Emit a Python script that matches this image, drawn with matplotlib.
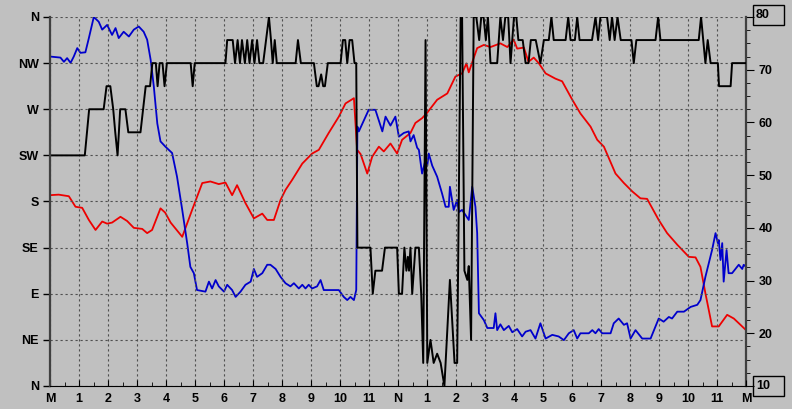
import matplotlib
matplotlib.use("Agg")
import matplotlib.pyplot as plt
from matplotlib.ticker import MultipleLocator
from matplotlib.patches import Rectangle

plt.rcParams['font.family'] = ['Liberation Sans', 'DejaVu Sans']
plt.rcParams['font.weight'] = 'bold'

# hour labels, midnight to midnight
hour_labels = ['M', '1', '2', '3', '4', '5', '6', '7', '8', '9', '10', '11', 'N',
               '1', '2', '3', '4', '5', '6', '7', '8', '9', '10', '11', 'M']
compass = ['N', 'NE', 'E', 'SE', 'S', 'SW', 'W', 'NW', 'N']
right_ticks = [10, 20, 30, 40, 50, 60, 70, 80]

# red series (right scale)
red_h = [0, 0.3, 0.65, 0.88, 1.11, 1.34, 1.57, 1.8, 1.97, 2.14, 2.43, 2.66, 2.89, 3.18,
         3.35, 3.52, 3.81, 3.97, 4.16, 4.56, 4.9, 5.25, 5.53, 5.82, 6.05, 6.28, 6.45,
         6.74, 7.03, 7.32, 7.49, 7.72, 7.95, 8.12, 8.35, 8.7, 9.04, 9.27, 9.61, 9.96,
         10.19, 10.48, 10.59, 10.71, 10.94, 11.11, 11.34, 11.51, 11.74, 11.97, 12.14,
         12.43, 12.6, 12.83, 13.0, 13.35, 13.7, 13.98, 14.21, 14.36, 14.44, 14.61,
         14.73, 14.96, 15.19, 15.53, 15.77, 15.99, 16.11, 16.34, 16.5, 16.68, 16.86,
         17.09, 17.43, 17.66, 18.01, 18.29, 18.64, 18.87, 19.1, 19.5, 19.79, 20.08,
         20.36, 20.59, 20.99, 21.28, 21.63, 22.03, 22.26, 22.43, 22.6, 22.83, 23.06,
         23.35, 23.58, 23.81, 24.0]
red_v = [46.2, 46.3, 46.0, 44.0, 43.8, 41.5, 39.6, 41.2, 40.8, 41.0, 42.1, 41.3, 40.0, 39.8,
         39.0, 39.6, 43.7, 42.9, 41.0, 38.3, 43.4, 48.5, 48.8, 48.3, 48.6, 46.2, 48.1,
         44.7, 41.8, 42.7, 41.5, 41.5, 45.3, 47.2, 49.1, 52.2, 54.1, 54.8, 58.0, 61.1,
         63.6, 64.6, 54.8, 54.0, 50.3, 53.5, 55.4, 54.5, 56.0, 54.1, 56.7,
         58.0, 59.9, 60.8, 61.8, 64.3, 65.5, 68.7, 69.3, 71.2, 69.5, 72.2,
         74.1, 74.7, 74.3, 75.0, 74.3, 75.7, 74.0, 74.2, 71.5, 72.3, 71.2,
         69.3, 68.3, 67.8, 64.3, 61.7, 59.2, 56.7, 55.4, 50.3, 48.5, 46.9,
         45.6, 45.5, 41.5, 39.0, 36.8, 34.5, 34.4, 32.6, 27.6, 21.3, 21.3,
         23.5, 22.8, 21.6, 20.6]

# blue series (right scale)
blue_h = [0, 0.36, 0.48, 0.59, 0.71, 0.82, 0.94, 1.05, 1.22, 1.34, 1.51, 1.68, 1.8, 1.97,
          2.14, 2.26, 2.37, 2.54, 2.72, 2.89, 3.06, 3.23, 3.35, 3.47, 3.58, 3.7, 3.81,
          3.98, 4.21, 4.38, 4.56, 4.73, 4.84, 4.96, 5.07, 5.36, 5.48, 5.59, 5.71, 5.82,
          6.0, 6.11, 6.28, 6.4, 6.57, 6.74, 6.92, 7.03, 7.14, 7.32, 7.49, 7.6, 7.78,
          7.95, 8.12, 8.29, 8.41, 8.58, 8.7, 8.81, 8.92, 9.04, 9.21, 9.33, 9.44, 9.96,
          10.13, 10.25, 10.36, 10.48, 10.56, 10.6, 10.65, 10.99, 11.22, 11.46, 11.57,
          11.74, 11.91, 12.03, 12.2, 12.37, 12.43, 12.54, 12.66, 12.72, 12.83, 12.95,
          13.01, 13.06, 13.18, 13.35, 13.52, 13.64, 13.75, 13.79, 13.92, 14.04, 14.1,
          14.21, 14.44, 14.56, 14.67, 14.73, 14.79, 14.96, 15.08, 15.3, 15.36, 15.42,
          15.53, 15.65, 15.82, 15.94, 16.11, 16.28, 16.4, 16.57, 16.74, 16.91, 17.09,
          17.32, 17.54, 17.72, 17.89, 18.06, 18.18, 18.29, 18.58, 18.7, 18.81, 18.92,
          19.04, 19.33, 19.44, 19.61, 19.79, 19.9, 20.02, 20.19, 20.42, 20.71, 20.99,
          21.16, 21.34, 21.45, 21.63, 21.86, 22.09, 22.32, 22.43, 22.6, 22.83, 22.95,
          23.03, 23.06, 23.12, 23.18, 23.23, 23.33, 23.4, 23.52, 23.75, 23.87, 23.92,
          24.0]
blue_v = [72.5, 72.3, 71.5, 72.2, 71.3, 72.5, 74.1, 73.2, 73.3, 76.0, 80.0, 79.1, 77.6, 78.5,
          76.6, 77.9, 76.0, 77.2, 76.3, 77.6, 78.2, 77.2, 75.7, 71.9, 66.8, 59.8, 56.4,
          55.4, 54.2, 49.7, 43.4, 37.1, 32.6, 31.4, 28.2, 27.9, 29.8, 28.5, 30.1, 28.9,
          27.9, 29.2, 28.2, 26.9, 27.9, 29.2, 29.8, 32.2, 30.7, 31.4, 33.0, 33.0, 32.2,
          30.7, 29.5, 28.9, 29.5, 28.5, 29.2, 28.5, 29.2, 28.5, 28.9, 30.1, 28.2, 28.2,
          26.9, 26.3, 26.9, 26.3, 28.2, 59.2, 58.3, 62.4, 62.4, 58.3, 61.1,
          59.4, 61.1, 57.3, 58.0, 58.3, 56.4, 57.6, 55.2, 54.8, 50.3, 52.9,
          51.8, 54.1, 51.8, 49.7, 46.5, 44.0, 44.0, 47.8, 43.4, 45.3, 43.0,
          43.4, 41.5, 47.8, 44.0, 39.0, 23.8, 22.5, 21.0, 21.0, 23.8, 20.6,
          21.7, 20.6, 21.4, 20.2, 20.8, 19.4, 20.3, 20.6, 19.0, 21.9, 19.0,
          19.7, 19.4, 18.7, 20.0, 20.6, 19.0, 20.0, 20.0, 20.6, 20.0, 20.8,
          20.0, 20.0, 21.9, 22.8, 21.6, 21.9, 19.0, 20.6, 19.0, 19.0, 22.8,
          22.2, 23.1, 22.8, 24.1, 24.1, 25.0, 25.4, 26.3, 30.7, 35.8, 39.0,
          37.1, 37.7, 33.9, 37.1, 29.8, 35.8, 31.4, 31.4, 33.0, 32.2, 33.0,
          32.6]

# black series: wind direction, degrees (left scale)
wind_h = [0, 1.2, 1.35, 1.85, 1.95, 2.08, 2.18, 2.25, 2.33, 2.42, 2.6, 2.7, 3.12, 3.3,
          3.45, 3.53, 3.65, 3.71, 3.78, 3.88, 3.95, 4.03, 4.85, 4.92, 4.99, 6.05, 6.11,
          6.3, 6.38, 6.47, 6.55, 6.62, 6.72, 6.8, 6.88, 6.97, 7.05, 7.14, 7.22, 7.35,
          7.45, 7.55, 7.62, 7.68, 7.75, 7.82, 8.47, 8.55, 8.65, 9.1, 9.2, 9.26, 9.35,
          9.42, 9.48, 9.58, 10.02, 10.1, 10.18, 10.25, 10.33, 10.42, 10.5, 10.56, 10.6,
          11.05, 11.13, 11.22, 11.45, 11.55, 11.97, 12.03, 12.14, 12.22, 12.29, 12.34,
          12.38, 12.43, 12.49, 12.6, 12.72, 12.8, 12.87, 12.95, 13.01, 13.12, 13.23,
          13.35, 13.47, 13.6, 13.79, 13.95, 14.04, 14.16, 14.21, 14.29, 14.39, 14.44,
          14.52, 14.61, 14.7, 14.8, 14.87, 14.95, 15.03, 15.1, 15.19, 15.42, 15.53,
          15.62, 15.7, 15.8, 15.88, 16.0, 16.08, 16.15, 16.3, 16.4, 16.5, 16.58, 16.75,
          16.91, 17.03, 17.2, 17.29, 17.37, 17.78, 17.87, 17.95, 18.1, 18.18, 18.26,
          18.69, 18.81, 18.9, 18.98, 19.21, 19.3, 19.38, 19.47, 19.57, 19.68, 20.05,
          20.13, 20.22, 20.88, 20.97, 21.05, 22.37, 22.45, 22.6, 22.68, 22.78, 23.03,
          23.07, 23.47, 23.52, 24.0]
wind_dir = [225, 225, 270, 270, 292.5, 292.5, 270, 247.5, 225, 270, 270, 247.5, 247.5, 292.5,
            292.5, 315, 315, 292.5, 315, 315, 292.5, 315, 315, 292.5, 315, 315, 337.5,
            337.5, 315, 337.5, 315, 337.5, 315, 337.5, 315, 337.5, 315, 337.5, 315, 315,
            337.5, 360, 337.5, 315, 337.5, 315, 315, 337.5, 315, 315, 292.5, 292.5, 304,
            292.5, 292.5, 315, 315, 337.5, 337.5, 315, 337.5, 337.5, 315, 315, 135,
            135, 90, 112.5, 112.5, 135, 135, 90, 90, 135, 112.5, 126,
            112.5, 135, 90, 135, 135, 90, 22.5, 337.5, 22.5, 45, 22.5,
            31.5, 22.5, 0, 103.5, 22.5, 22.5, 360, 360, 112.5, 103.5, 117,
            45, 360, 360, 337.5, 360, 360, 337.5, 360, 315, 315, 360,
            337.5, 360, 360, 315, 360, 360, 337.5, 337.5, 315, 315, 337.5, 337.5,
            315, 337.5, 337.5, 360, 337.5, 337.5, 360, 337.5, 337.5, 360, 337.5,
            337.5, 360, 337.5, 360, 360, 337.5, 360, 337.5, 360, 337.5, 337.5,
            315, 337.5, 337.5, 360, 337.5, 337.5, 360, 315, 337.5, 315, 315,
            292.5, 292.5, 315, 315]

bg = '#c0c0c0'
fig = plt.figure(figsize=(7.92, 4.09), dpi=100, facecolor=bg)
ax = fig.add_axes([50/792, 23/409, 696/792, 369/409])
ax2 = ax.twinx()
ax.set_zorder(ax2.get_zorder() + 1)
ax.patch.set_visible(False)
ax2.set_facecolor(bg)

ax2.plot(red_h, red_v, color='#ee0000', lw=1.3)
ax2.plot(blue_h, blue_v, color='#0000cc', lw=1.3)
ax.plot(wind_h, wind_dir, color='black', lw=1.4)

ax.set_xlim(0, 24)
ax.set_ylim(0, 360)
ax2.set_ylim(10, 80)

ax.set_xticks(range(25))
ax.set_xticklabels(hour_labels)
ax.xaxis.set_minor_locator(MultipleLocator(0.5))
ax.set_yticks(range(0, 361, 45))
ax.set_yticklabels(compass)

ax2.set_yticks(right_ticks)
ax2.set_yticklabels([''] + [str(v) for v in right_ticks[1:-1]] + [''])
ax2.yaxis.set_minor_locator(MultipleLocator(2.5))

ax.grid(True, color='#505050', linestyle=(0, (2, 2.5)), linewidth=0.8)

ax.tick_params(axis='y', direction='out', length=5, width=1, labelsize=9, pad=3)
ax.tick_params(axis='x', which='major', direction='in', length=4, labelsize=9, pad=5)
ax.tick_params(axis='x', which='minor', direction='in', length=3)
ax2.tick_params(axis='y', which='major', direction='out', length=6, labelsize=9, pad=3)
ax2.tick_params(axis='y', which='minor', direction='out', length=3)

for a in (ax, ax2):
    a.spines['top'].set_visible(False)
ax.spines['right'].set_visible(False)
ax2.spines['left'].set_visible(False)
ax2.spines['bottom'].set_visible(False)
ax.spines['left'].set_color('#404040')
ax.spines['left'].set_linewidth(1.6)
ax.spines['bottom'].set_color('black')
ax2.spines['right'].set_color('#404040')
ax2.spines['right'].set_linewidth(1.6)

# boxed end labels of the right scale
for txt, ytop in (('80', 5), ('10', 376)):
    fig.patches.append(Rectangle((753/792, 1 - (ytop + 20)/409), 31/792, 20/409,
                                 transform=fig.transFigure, fill=False,
                                 ec='black', lw=1))
    fig.text(756/792, 1 - (ytop + 10)/409, txt, fontsize=9, va='center', ha='left')

plt.savefig('out.png', dpi=100, facecolor=bg)
